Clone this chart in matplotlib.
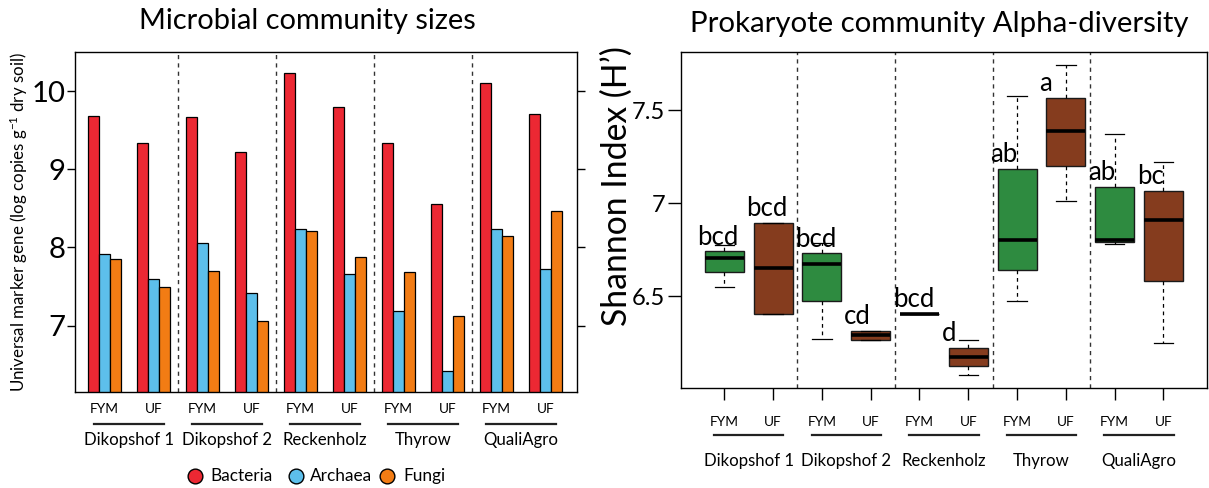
import matplotlib
matplotlib.use('Agg')
import matplotlib.pyplot as plt
from matplotlib.lines import Line2D
import matplotlib.transforms as mtrans

plt.rcParams['font.family'] = ['Lato', 'DejaVu Sans']
plt.rcParams['mathtext.fontset'] = 'custom'
plt.rcParams['mathtext.rm'] = 'Lato'
plt.rcParams['mathtext.it'] = 'Lato:italic'
plt.rcParams['mathtext.default'] = 'regular'

# ---------------- data ----------------
sites = ['Dikopshof 1', 'Dikopshof 2', 'Reckenholz', 'Thyrow', 'QualiAgro']
treatments = ['FYM', 'UF']
taxa = ['Bacteria', 'Archaea', 'Fungi']

bacteria = [9.68, 9.34, 9.67, 9.22, 10.23, 9.80, 9.34, 8.55, 10.10, 9.71]
archaea = [7.91, 7.60, 8.06, 7.42, 8.24, 7.66, 7.19, 6.42, 8.24, 7.72]
fungi = [7.85, 7.49, 7.70, 7.06, 8.21, 7.88, 7.69, 7.12, 8.14, 8.47]

shannon_whislo = [6.546, 6.405, 6.270, 6.263, 6.405, 6.075, 6.471, 7.014, 6.781, 6.249]
shannon_q1 = [6.627, 6.405, 6.471, 6.263, 6.405, 6.125, 6.638, 7.200, 6.792, 6.581]
shannon_med = [6.706, 6.650, 6.674, 6.290, 6.405, 6.174, 6.799, 7.390, 6.803, 6.910]
shannon_q3 = [6.740, 6.894, 6.729, 6.313, 6.405, 6.218, 7.186, 7.565, 7.088, 7.065]
shannon_whishi = [6.776, 6.894, 6.787, 6.313, 6.405, 6.265, 7.575, 7.745, 7.373, 7.220]
letters = ['bcd', 'bcd', 'bcd', 'cd', 'bcd', 'd', 'ab', 'a', 'ab', 'bc']

left_yticks = [7, 8, 9, 10]
right_yticks = [6.5, 7, 7.5]
right_yticklabels = ['6.5', '7', '7.5']

taxa_colors = ['#EC2833', '#5DBFEB', '#F27C14']
box_colors = {'FYM': '#2E8B40', 'UF': '#853C1E'}

title_left = 'Microbial community sizes'
title_right = 'Prokaryote community Alpha-diversity'
ylabel_left = 'Universal marker gene (log copies g$^{-1}$ dry soil)'
ylabel_right = 'Shannon Index (H\u2019)'

# ---------------- figure ----------------
W, H = 1209, 488
fig = plt.figure(figsize=(W / 100, H / 100), dpi=100)
renderer = fig.canvas.get_renderer()


def size_for(s, target_px, base=12.0, rotated=False):
    """font size so that string s spans target_px pixels"""
    t = fig.text(0, 0, s, fontsize=base, rotation=90 if rotated else 0)
    bb = t.get_window_extent(renderer)
    L = bb.height if rotated else bb.width
    t.remove()
    return base * target_px / L


fs_ticks_left = size_for('10', 34)
fs_ticks_right = size_for('7.5', 33)
fs_treat = size_for('FYM', 29)
fs_site = size_for('Dikopshof 1', 90)
fs_legend = size_for('Bacteria', 62)
fs_letter = size_for('bcd', 41)

ax1 = fig.add_axes([75 / W, 1 - 392 / H, (577 - 75) / W, (392 - 52) / H])
ax2 = fig.add_axes([681 / W, 1 - 388 / H, (1207.3 - 681) / W, (388 - 52.3) / H])

sep_style = dict(color='#333333', lw=1.0, ls=(0, (3, 3)))

# ---- left: bar chart ----
n_groups = len(bacteria)
group_period = 4.5
bases = [g * group_period for g in range(n_groups)]
for k, (vals, col) in enumerate(zip([bacteria, archaea, fungi], taxa_colors)):
    xs = [b + k + 0.5 for b in bases]
    ax1.bar(xs, vals, width=1.0, bottom=0, color=col, edgecolor='black',
            linewidth=0.9, zorder=2)

ax1.set_xlim(-1.22, 44.88)
ax1.set_ylim(6.15, 10.5)
ax1.set_yticks(left_yticks)
ax1.set_yticklabels([str(v) for v in left_yticks])
ax1.tick_params(axis='y', left=True, right=True, direction='out', length=6,
                width=1, labelsize=fs_ticks_left, pad=1)
ax1.tick_params(axis='x', bottom=False, labelbottom=False)
for s in range(1, len(sites)):
    ax1.axvline(s * 2 * group_period - 0.75, zorder=1, **sep_style)
for sp in ax1.spines.values():
    sp.set_linewidth(1.0)

tr1 = mtrans.blended_transform_factory(ax1.transData, ax1.transAxes)
for g in range(n_groups):
    ax1.text(bases[g] + 1.5, -0.051, treatments[g % 2], transform=tr1,
             ha='center', va='center', fontsize=fs_treat)
for i, site in enumerate(sites):
    c = i * 2 * group_period + 3.75
    ax1.add_line(Line2D([c - 3.19, c + 3.19], [-0.095, -0.095], transform=tr1,
                        color='#222222', lw=1.6, clip_on=False))
    ax1.text(c, -0.141, site, transform=tr1, ha='center', va='center',
             fontsize=fs_site)

fig.text(19 / W, 1 - 222 / H, ylabel_left, rotation=90, ha='center',
         va='center', fontsize=size_for(ylabel_left, 338, rotated=True))

# legend (circle + label), laid out in pixel positions
leg_y = 1 - 475.7 / H
leg_circle_x = [195, 295.5, 386.7]
leg_text_x = [210.7, 310, 403.3]
for cx, tx, lab, col in zip(leg_circle_x, leg_text_x, taxa, taxa_colors):
    fig.add_artist(Line2D([cx / W], [leg_y], transform=fig.transFigure,
                          marker='o', ls='none', markersize=10.6,
                          markerfacecolor=col, markeredgecolor='black',
                          markeredgewidth=1))
    fig.text(tx / W, leg_y, lab, ha='left', va='center', fontsize=fs_legend)

# ---- right: boxplots ----
positions = list(range(1, n_groups + 1))
stats = []
for i in range(n_groups):
    stats.append(dict(med=shannon_med[i], q1=shannon_q1[i], q3=shannon_q3[i],
                      whislo=shannon_whislo[i], whishi=shannon_whishi[i]))
bp = ax2.bxp(stats, positions=positions, widths=0.8, patch_artist=True,
             showfliers=False,
             boxprops=dict(edgecolor='#1a1a1a', linewidth=1.0),
             medianprops=dict(color='black', linewidth=2.6),
             whiskerprops=dict(color='black', linewidth=0.9, linestyle=(0, (3, 3))),
             capprops=dict(color='black', linewidth=0.9))
for i, patch in enumerate(bp['boxes']):
    patch.set_facecolor(box_colors[treatments[i % 2]])

ax2.set_xlim(0.113, 10.898)
ax2.set_ylim(6.005, 7.812)
ax2.set_yticks(right_yticks)
ax2.set_yticklabels(right_yticklabels)
ax2.tick_params(axis='y', direction='out', length=9.4, width=1,
                labelsize=fs_ticks_right, pad=2)
ax2.set_xticks(positions)
ax2.tick_params(axis='x', direction='out', length=8.6, width=1, labelbottom=False)
for s in range(1, len(sites)):
    ax2.axvline(2 * s + 0.5, zorder=1, **sep_style)
for sp in ax2.spines.values():
    sp.set_linewidth(1.0)

for i in range(n_groups):
    ax2.annotate(letters[i], xy=(positions[i] - 0.55, shannon_q3[i]),
                 xytext=(0, 5), textcoords='offset points',
                 ha='left', va='baseline', fontsize=fs_letter)

tr2 = mtrans.blended_transform_factory(ax2.transData, ax2.transAxes)
for i in range(n_groups):
    ax2.text(positions[i], -0.1013, treatments[i % 2], transform=tr2,
             ha='center', va='center', fontsize=fs_treat)
for i, site in enumerate(sites):
    c = 2 * i + 1.5
    ax2.add_line(Line2D([c - 0.71, c + 0.71], [-0.1397, -0.1397], transform=tr2,
                        color='#222222', lw=1.6, clip_on=False))
    ax2.text(c, -0.2169, site, transform=tr2, ha='center', va='center',
             fontsize=fs_site)

fig.text(617 / W, 1 - 186 / H, ylabel_right, rotation=90, ha='center',
         va='center', fontsize=size_for(ylabel_right, 278, rotated=True))

# ---- titles ----
fig.text(307 / W, 1 - 29.5 / H, title_left, ha='center', va='baseline',
         fontsize=size_for(title_left, 336))
fig.text(939 / W, 1 - 32 / H, title_right, ha='center', va='baseline',
         fontsize=size_for(title_right, 496))

fig.savefig('out.png', dpi=100)
